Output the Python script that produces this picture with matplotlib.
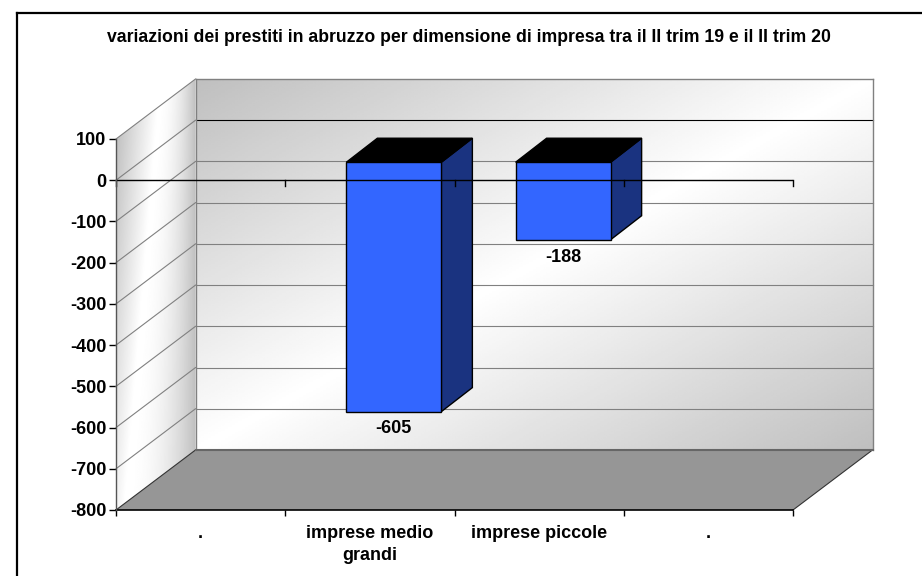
import numpy as np
import matplotlib
matplotlib.use('Agg')
import matplotlib.pyplot as plt
from matplotlib.lines import Line2D
from matplotlib.patches import Polygon

plt.rcParams['font.family'] = ['Liberation Sans', 'DejaVu Sans']
plt.rcParams['font.weight'] = 'bold'

title = 'variazioni dei prestiti in abruzzo per dimensione di impresa tra il II trim 19 e il II trim 20'
categories = ['.', 'imprese medio\ngrandi', 'imprese piccole', '.']
values = [0, -605, -188, 0]
y_ticks = [100, 0, -100, -200, -300, -400, -500, -600, -700, -800]

W, H = 922, 576
fig = plt.figure(figsize=(W / 100, H / 100), dpi=100)
# front plane of the 3d box, from pixels
ax = fig.add_axes([116 / W, 1 - 510 / H, (793 - 116) / W, (510 - 139) / H])
ax.set_xlim(-0.5, 3.5)
ax.set_ylim(-800, 100)
ax.patch.set_visible(False)
for s in ax.spines.values():
    s.set_visible(False)

px_x = 4 / 677.0
px_y = 900 / 371.0
# depth of the box
dx = 79.5 * px_x
dy = 60 * px_y
x0, x1 = -0.5, 3.5
y0, y1 = -800, 100


def gradient(poly, img):
    xs = [p[0] for p in poly]
    ys = [p[1] for p in poly]
    im = ax.imshow(img, extent=[min(xs), max(xs), min(ys), max(ys)], origin='lower',
                   cmap='gray', vmin=0, vmax=1, aspect='auto', zorder=1, interpolation='bilinear')
    clip = Polygon(poly, closed=True, transform=ax.transData, fc='none', ec='none')
    ax.add_patch(clip)
    im.set_clip_path(clip)
    im.set_clip_box(fig.bbox)


# back wall, grey in two corners and white through the middle
u, v = np.meshgrid(np.linspace(0, 1, 200), np.linspace(0, 1, 200))
t = np.abs((u + (1 - v)) / 2 - 0.5) * 2
back = [(x0 + dx, y0 + dy), (x1 + dx, y0 + dy), (x1 + dx, y1 + dy), (x0 + dx, y1 + dy)]
gradient(back, 1.0 - 0.25 * t)

# left wall, the white band leans with the height
u2, v2 = np.meshgrid(np.linspace(0, 1, 100), np.linspace(0, 1, 100))
c2 = 0.1 + 0.45 * v2
t2 = np.where(u2 > c2, ((u2 - c2) / (1 - c2)) ** 2, (c2 - u2) / 0.5)
left = [(x0, y0), (x0 + dx, y0 + dy), (x0 + dx, y1 + dy), (x0, y1)]
gradient(left, 1.0 - 0.25 * np.clip(t2, 0, 1))

ax.set_xlim(-0.5, 3.5)
ax.set_ylim(-800, 100)

# floor
ax.add_patch(Polygon([(x0, y0), (x1, y0), (x1 + dx, y0 + dy), (x0 + dx, y0 + dy)],
                     fc='#969696', ec='none', zorder=2, clip_on=False))
ax.plot([x0, x0 + dx, x1 + dx, x1], [y0, y0 + dy, y0 + dy, y0], color='#333333', lw=0.8, zorder=2.1, clip_on=False)

# walls edges and gridlines
for y in y_ticks[:-1]:
    if y != 100:
        c = 'black' if y == 0 else '#808080'
        ax.plot([x0 + dx, x1 + dx], [y + dy, y + dy], color=c, lw=0.8, zorder=2, clip_on=False)
    ax.plot([x0, x0 + dx], [y, y + dy], color='#808080', lw=0.8, zorder=2, clip_on=False)
ax.plot([x0 + dx, x0 + dx], [y0 + dy, y1 + dy], color='#808080', lw=1, zorder=2, clip_on=False)
ax.plot([x1 + dx, x1 + dx], [y0 + dy, y1 + dy], color='#808080', lw=1, zorder=2, clip_on=False)
ax.plot([x0 + dx, x1 + dx], [y1 + dy, y1 + dy], color='#808080', lw=1, zorder=2, clip_on=False)
ax.plot([x0 + dx, x1 + dx], [y0 + dy, y0 + dy], color='#666666', lw=1.5, zorder=2.1, clip_on=False)

# bars
bar_w = 95 * px_x
bar_off_x = 24 * px_x
bar_off_y = 18 * px_y
depth_x = 31 * px_x
depth_y = 24 * px_y
for i, val in enumerate(values):
    if val == 0:
        continue
    l = i + bar_off_x - bar_w / 2
    r = l + bar_w
    top = bar_off_y
    bot = bar_off_y + val
    ax.bar(i + bar_off_x, val, width=bar_w, bottom=bar_off_y, color='#3366ff', edgecolor='black', lw=1, zorder=4)
    ax.add_patch(Polygon([(r, top), (r + depth_x, top + depth_y), (r + depth_x, bot + depth_y), (r, bot)],
                         fc='#1a3380', ec='black', lw=1, zorder=3.9, clip_on=False))
    ax.add_patch(Polygon([(l, top), (r, top), (r + depth_x, top + depth_y), (l + depth_x, top + depth_y)],
                         fc='black', ec='black', lw=1, zorder=3.9, clip_on=False))
    ax.annotate(str(val), (i + bar_off_x, bot), xytext=(0, -12.5), textcoords='offset points',
                ha='center', va='center', fontsize=13, fontweight='bold', zorder=6)

# zero line and its ticks over the bars
ax.axhline(0, color='black', lw=1, zorder=5)
for x in np.arange(-0.5, 4, 1):
    ax.plot([x, x], [0, -6 * px_y], color='black', lw=1, zorder=5, clip_on=False)

# front axes
ax.plot([x0, x1], [y0, y0], color='black', lw=1.2, zorder=5, clip_on=False)
ax.plot([x0, x0], [y0, y1], color='#555555', lw=1, zorder=5, clip_on=False)
ax.set_yticks(y_ticks)
ax.set_yticklabels([str(y) for y in y_ticks], fontsize=13, fontweight='bold')
ax.tick_params(axis='y', length=5, width=1, pad=2)
ax.set_xticks(np.arange(-0.5, 4, 1))
ax.set_xticklabels([])
ax.tick_params(axis='x', which='major', length=4.5, width=1)
ax.set_xticks(np.arange(4), minor=True)
ax.set_xticklabels(categories, minor=True, fontsize=13, fontweight='bold', linespacing=1.4)
ax.tick_params(axis='x', which='minor', length=0, pad=11)

fig.text(469 / W, 1 - 38 / H, title, ha='center', va='center', fontsize=12.7, fontweight='bold')

# chart frame, only top and left reach into the picture
fig.add_artist(Line2D([17 / W, 1], [1 - 13 / H, 1 - 13 / H], color='black', lw=1.6))
fig.add_artist(Line2D([17 / W, 17 / W], [1 - 13 / H, 0], color='black', lw=1.6))

fig.savefig('out.png', dpi=100)
plt.close('all')
